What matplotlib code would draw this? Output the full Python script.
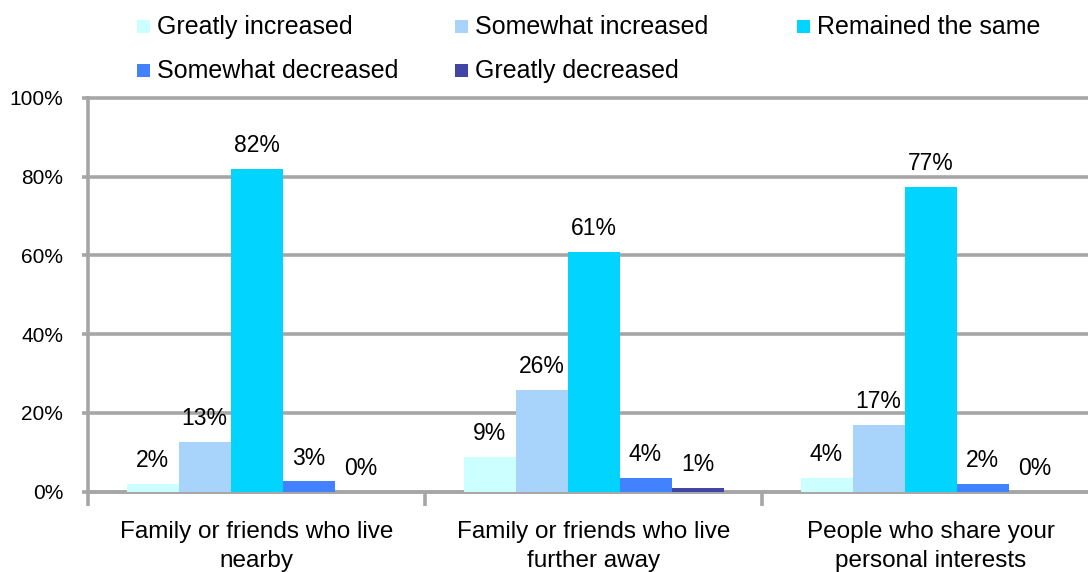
"""
Grouped bar chart: change in contact with different groups of people.
"""

import numpy as np
import matplotlib
matplotlib.use("Agg")
import matplotlib.pyplot as plt
from matplotlib import patches

categories = ["Family or friends who live\nnearby",
              "Family or friends who live\nfurther away",
              "People who share your\npersonal interests"]
series_names = ["Greatly increased", "Somewhat increased", "Remained the same",
                "Somewhat decreased", "Greatly decreased"]
greatly_increased = [2.0, 8.8, 3.6]
somewhat_increased = [12.6, 25.9, 17.0]
remained_same = [82.0, 61.0, 77.4]
somewhat_decreased = [2.6, 3.6, 2.0]
greatly_decreased = [0.0, 0.9, 0.0]
y_ticks = [0, 20, 40, 60, 80, 100]

colors = ["#CCFFFF", "#A8D4FB", "#00D4FF", "#4282FF", "#4146A6"]
grid_color = "#A6A6A6"
font = "Liberation Sans"

plt.rcParams["font.family"] = [font, "DejaVu Sans"]

fig = plt.figure(figsize=(10.88, 5.72), dpi=100)
W, H = 1088, 572

# Plot area in pixels: left edge at x=88, zero line at y=491.7, 100% at y=98.
# The right end of the axis runs slightly past the figure edge.
left, right, top, bottom = 88, 1099, 98, 491.7
ax = fig.add_axes([left / W, 1 - bottom / H, (right - left) / W, (bottom - top) / H])

series = [greatly_increased, somewhat_increased, remained_same,
          somewhat_decreased, greatly_decreased]
x = np.arange(len(categories))
width = 52 / 337.0

for i, (vals, col) in enumerate(zip(series, colors)):
    pos = x + (i - 2) * width
    bars = ax.bar(pos, vals, width=width, color=col, zorder=3, linewidth=0)
    for rect, v in zip(bars, vals):
        ax.annotate(f"{v:.0f}%", (rect.get_x() + rect.get_width() / 2, v),
                    xytext=(0, 8.5), textcoords="offset points",
                    ha="center", va="bottom", fontsize=16.5, color="black")

ax.set_xlim(-0.5, len(categories) - 0.5)
ax.set_ylim(0, 100)

# Horizontal gridlines; the top one sits on the axes edge so don't clip it.
ax.set_yticks(y_ticks)
ax.set_yticklabels([f"{t}%" for t in y_ticks], fontsize=15)
ax.yaxis.grid(True, color=grid_color, linewidth=2.6, zorder=1)
for line in ax.get_ygridlines():
    line.set_clip_on(False)
ax.tick_params(axis="y", length=4, width=2.6, color=grid_color, pad=14)

# Category boundaries get the tick marks, category centres get the labels.
ax.set_xticks(np.arange(len(categories) + 1) - 0.5)
ax.set_xticklabels([])
ax.set_xticks(x, minor=True)
ax.set_xticklabels(categories, minor=True, fontsize=17.5, linespacing=1.4)
ax.tick_params(axis="x", which="major", length=10, width=2.6, color=grid_color)
ax.tick_params(axis="x", which="minor", length=0, pad=21)

for side in ["top", "right"]:
    ax.spines[side].set_visible(False)
for side in ["left", "bottom"]:
    ax.spines[side].set_color(grid_color)
    ax.spines[side].set_linewidth(2.6)
    ax.spines[side].set_zorder(2)

# Legend drawn by hand: two rows, three fixed columns.
legend_pos = [(137, 26), (455, 26), (797, 26), (137, 70), (455, 70)]
for name, col, (px, py) in zip(series_names, colors, legend_pos):
    sq = 13
    rect = patches.Rectangle((px / W, 1 - (py + sq / 2) / H), sq / W, sq / H,
                             transform=fig.transFigure, facecolor=col,
                             edgecolor="none")
    fig.patches.append(rect)
    fig.text((px + sq + 7) / W, 1 - (py + 1) / H, name, fontsize=18,
             ha="left", va="center")

fig.savefig("out.png", dpi=100)
